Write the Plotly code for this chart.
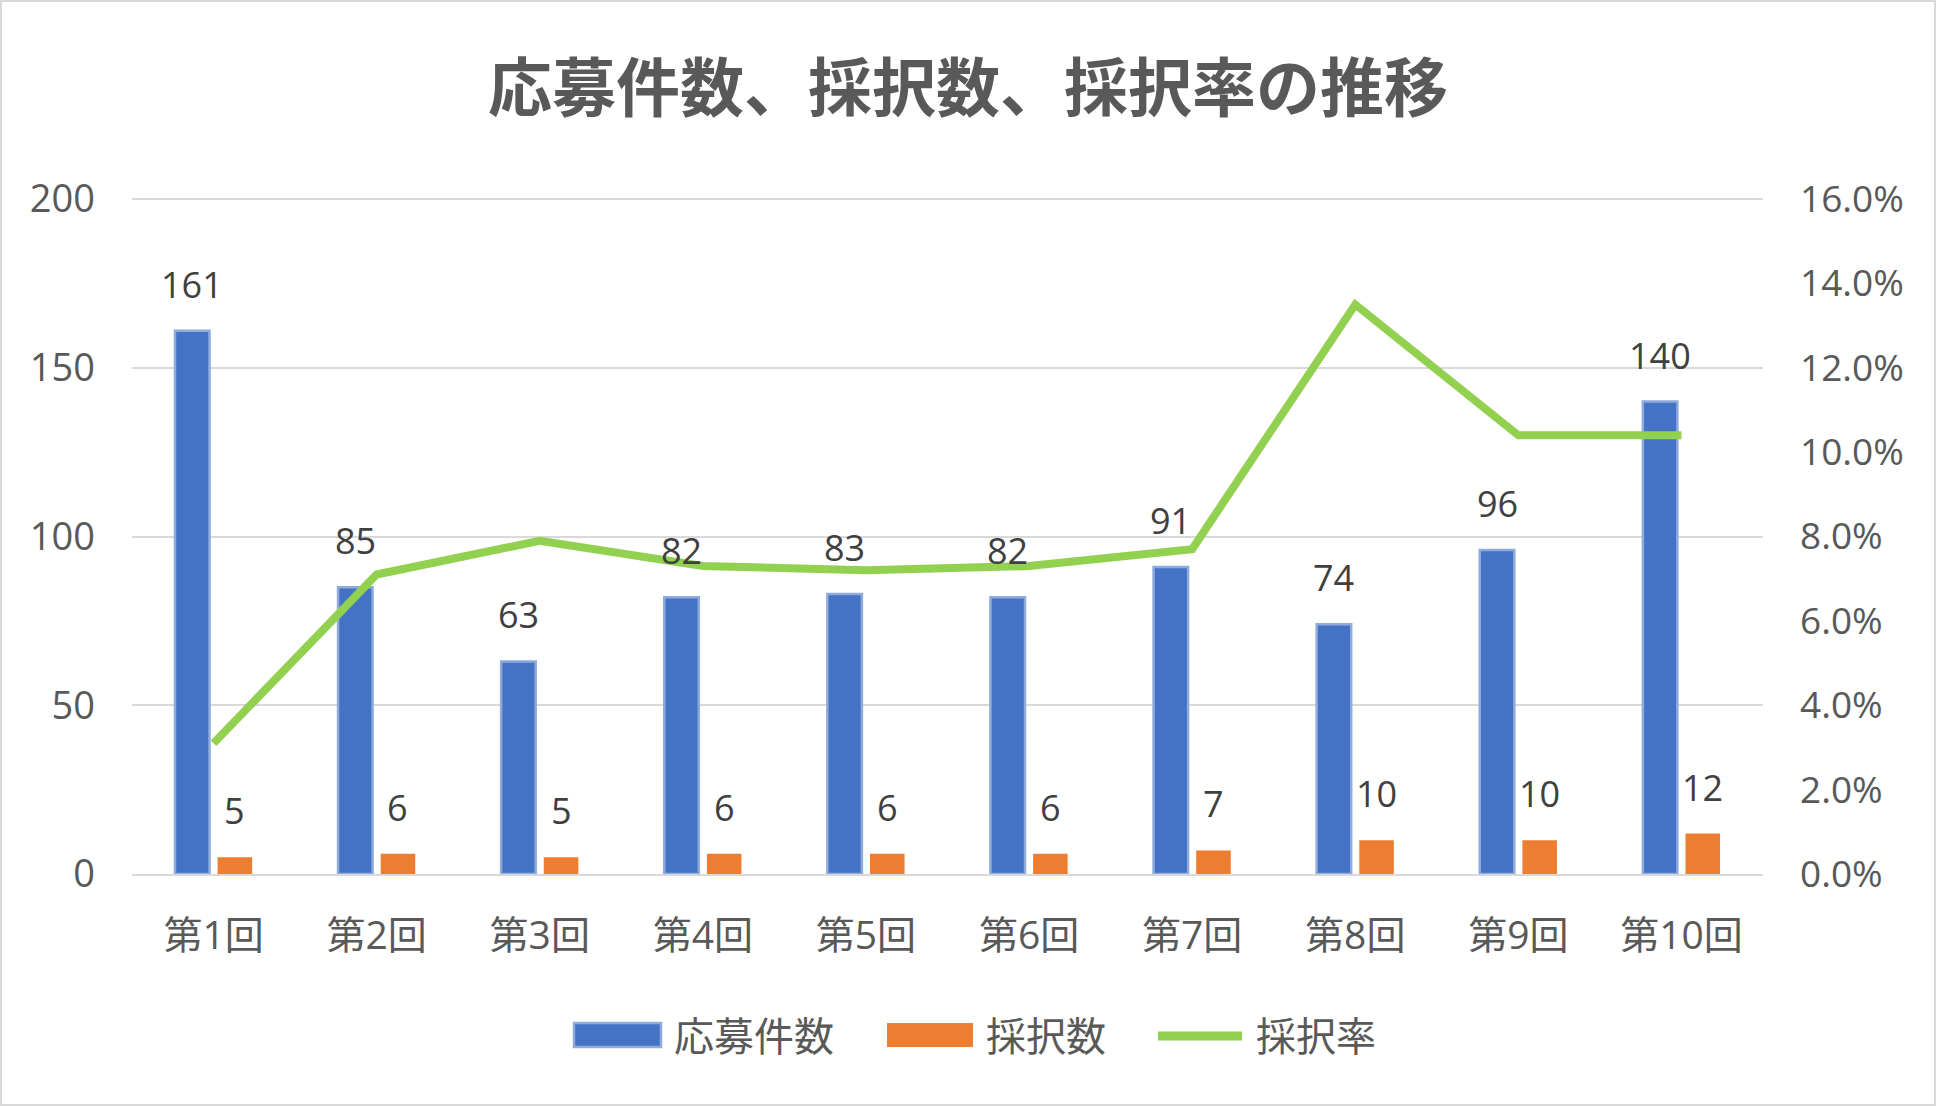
import plotly.graph_objects as go

categories = ["第1回", "第2回", "第3回", "第4回", "第5回", "第6回", "第7回", "第8回", "第9回", "第10回"]
applications = [161, 85, 63, 82, 83, 82, 91, 74, 96, 140]
adopted = [5, 6, 5, 6, 6, 6, 7, 10, 10, 12]
adoption_rate = [0.031, 0.071, 0.079, 0.073, 0.072, 0.073, 0.077, 0.135, 0.104, 0.104]
series_names = ["応募件数", "採択数", "採択率"]

FONT = "Open Sans, Noto Sans CJK JP, sans-serif"
GRAY = "#595959"
LABEL = "#404040"
BLUE, BLUE_EDGE, ORANGE, GREEN = "#4472C4", "#8FAADC", "#ED7D31", "#92D050"

W, H = 1936, 1106
ML, MR, MT, MB = 132, 173, 197, 232
PW, PH = W - ML - MR, H - MT - MB
BARGAP, BARGROUPGAP = 0.477, 0.19


def px(x):
    return (x - ML) / PW


def py(y):
    return (MT + PH - y) / PH


fig = go.Figure()
fig.add_trace(go.Bar(
    x=categories, y=applications, name=series_names[0],
    marker=dict(color=BLUE, line=dict(color=BLUE_EDGE, width=2.5)),
))
fig.add_trace(go.Bar(
    x=categories, y=adopted, name=series_names[1],
    marker=dict(color=ORANGE, line=dict(width=0)),
))
fig.add_trace(go.Scatter(
    x=categories, y=adoption_rate, name=series_names[2], yaxis="y2",
    mode="lines", line=dict(color=GREEN, width=8),
))

# data labels above the bars
cat_w = PW / len(categories)
offset = cat_w * (1 - BARGAP) / 4
for values, shift in ((applications, -offset), (adopted, offset)):
    for c, v in zip(categories, values):
        fig.add_annotation(
            x=c, y=v, xref="x", yref="y", text=str(v), showarrow=False,
            xanchor="center", yanchor="bottom", xshift=shift, yshift=20,
            font=dict(family=FONT, size=36, color=LABEL),
        )

fig.update_layout(
    width=W, height=H,
    margin=dict(l=ML, r=MR, t=MT, b=MB),
    paper_bgcolor="white", plot_bgcolor="white",
    barmode="group", bargap=BARGAP, bargroupgap=BARGROUPGAP,
    font=dict(family=FONT, size=36, color=GRAY),
    showlegend=False,
    title=dict(
        text="<b>応募件数、採択数、採択率の推移</b>",
        x=0.5, xanchor="center", y=1 - 89 / H, yanchor="middle",
        font=dict(family="Noto Sans CJK JP, sans-serif", size=64, color=GRAY),
    ),
    xaxis=dict(
        showgrid=False, showline=True, linecolor="#D9D9D9", linewidth=2,
        ticks="", tickfont=dict(size=39, color=GRAY), ticklabelstandoff=26,
    ),
    yaxis=dict(
        range=[0, 200.6], tickvals=[0, 50, 100, 150, 200],
        showgrid=True, gridcolor="#D9D9D9", gridwidth=2,
        zeroline=False, showline=False, ticks="",
        tickfont=dict(size=38, color=GRAY), ticklabelstandoff=36,
    ),
    yaxis2=dict(
        range=[0, 0.16048], tickvals=[0, 0.02, 0.04, 0.06, 0.08, 0.10, 0.12, 0.14, 0.16],
        tickformat=".1%", overlaying="y", side="right",
        showgrid=False, zeroline=False, showline=False, ticks="",
        tickfont=dict(size=37, color=GRAY), ticklabelstandoff=36,
    ),
)

# custom legend (bottom centre)
LEG_Y = 1035
fig.add_shape(type="rect", xref="paper", yref="paper",
              x0=px(574), x1=px(661), y0=py(1047), y1=py(1023),
              fillcolor=BLUE, line=dict(color=BLUE_EDGE, width=2.5))
fig.add_shape(type="rect", xref="paper", yref="paper",
              x0=px(887), x1=px(973), y0=py(1047), y1=py(1023),
              fillcolor=ORANGE, line=dict(width=0))
fig.add_shape(type="line", xref="paper", yref="paper",
              x0=px(1158), x1=px(1242), y0=py(LEG_Y + 1), y1=py(LEG_Y + 1),
              line=dict(color=GREEN, width=9))
for name, xl in zip(series_names, (672, 984, 1254)):
    fig.add_annotation(x=px(xl), y=py(LEG_Y), xref="paper", yref="paper",
                       text=name, showarrow=False, xanchor="left", yanchor="middle",
                       font=dict(family=FONT, size=40, color=GRAY))

# outer chart border
fig.add_shape(
    type="rect", xref="paper", yref="paper",
    x0=px(1), x1=px(W - 1), y0=py(H - 1), y1=py(1),
    line=dict(color="#D9D9D9", width=2), fillcolor="rgba(0,0,0,0)", layer="below",
)

fig.write_html("out.html")
